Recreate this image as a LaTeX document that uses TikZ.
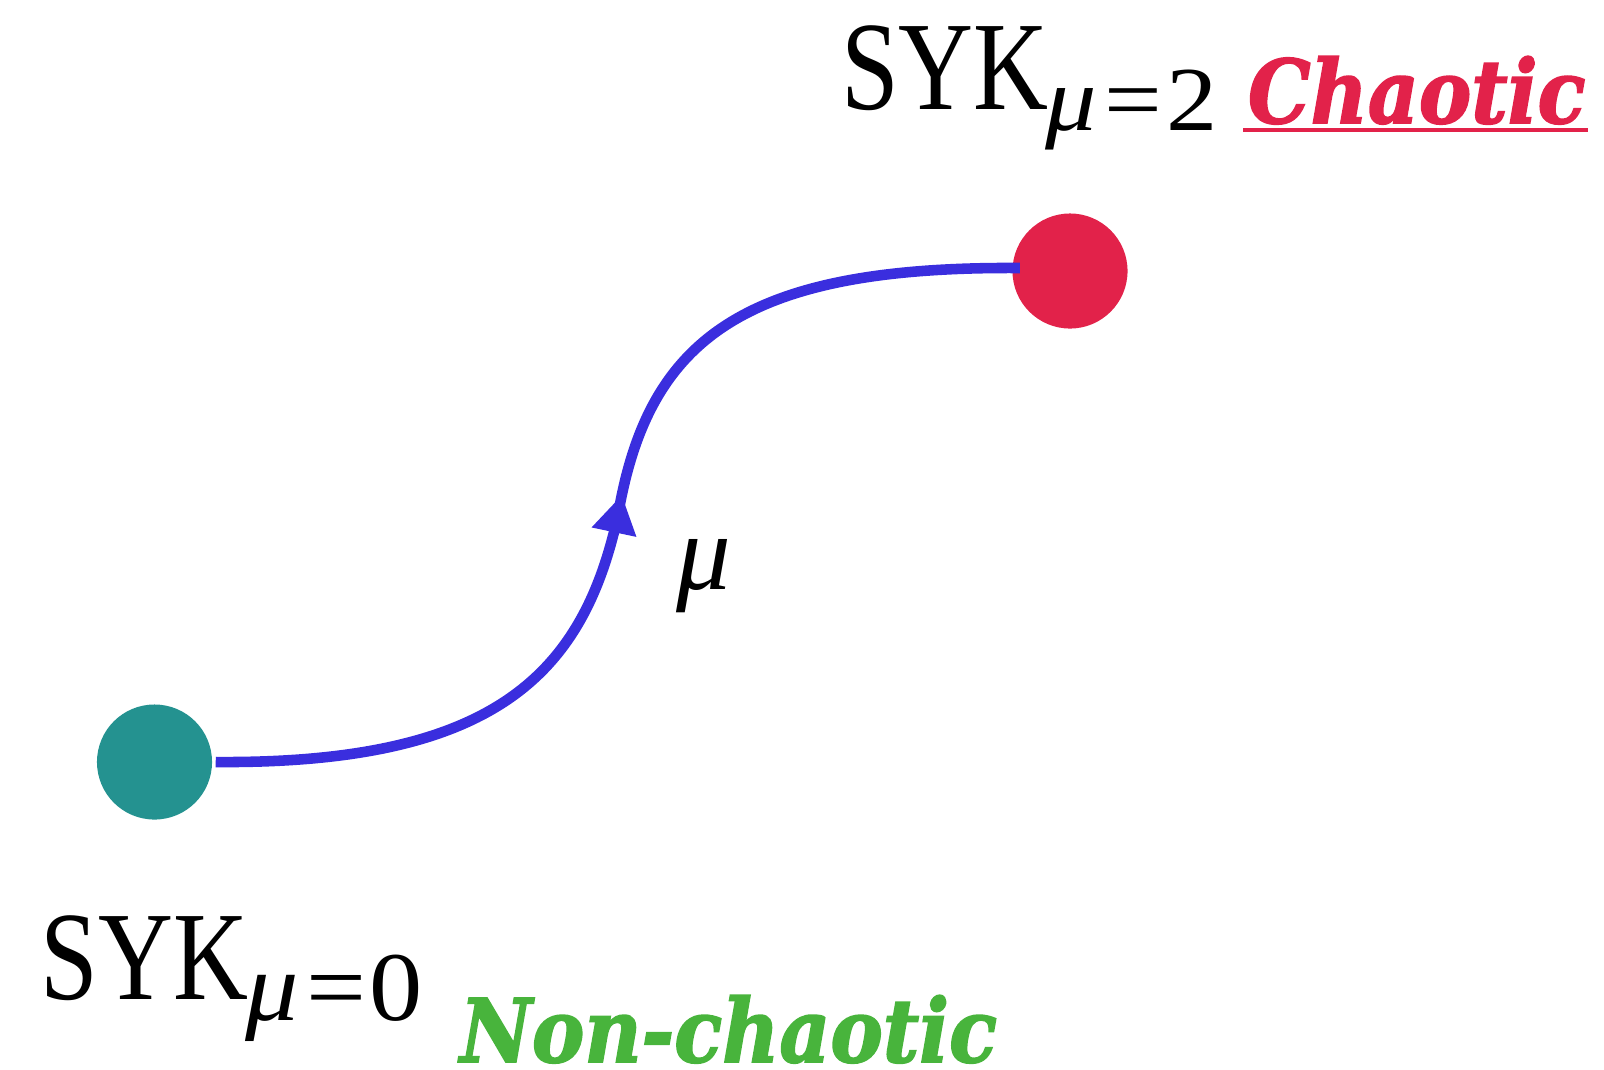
\documentclass[tikz,border=0pt]{standalone}
\usepackage{graphicx}
\usepackage{fontspec}
\setmainfont{Liberation Serif}
\newfontfamily\slabfont[FakeBold=2]{DejaVu Serif Bold Italic}
\usetikzlibrary{arrows.meta,decorations.markings,calc}
\definecolor{pathblue}{RGB}{58,46,222}
\definecolor{chaosred}{RGB}{226,34,74}
\definecolor{tealdot}{RGB}{36,146,144}
\definecolor{ncgreen}{RGB}{72,180,60}
\tikzset{
  dot/.style={circle,minimum size=1.15cm,inner sep=0pt,draw=none},
  lbl/.style={inner sep=0pt,outer sep=0pt,anchor=base west},
  tag/.style={lbl,font=\slabfont\fontsize{25}{25}\selectfont},
  flow/.style={line width=3pt,color=pathblue,postaction={decorate},
    decoration={markings,mark=at position 0.517 with {\arrow{Triangle[length=0.38cm,width=0.43cm]}}}}
}
% #1 subscript digit, #2 subscript size, #3 subscript stretch
\newcommand{\sykbig}[3]{{\fontsize{36}{36}\selectfont\scalebox{0.82}[1]{SYK}}\kern-1pt\raisebox{-0.205cm}{\fontsize{#2}{#2}\selectfont\scalebox{#3}[1]{\textit{μ}\kern2pt=\kern1pt#1}}}
\begin{document}
\begin{tikzpicture}[x=0.01cm,y=-0.01cm]
\useasboundingbox (0,0) rectangle (1604,1069);
\node[dot,fill=tealdot] (teal) at (154.5,762) {};
\node[dot,fill=chaosred] (red) at (1070,271) {};
\coordinate (start) at ($(teal.east)+(3,0)$);
\coordinate (mid) at (618,515);
\coordinate (stop) at ($(red.west)+(8,-3)$);
\draw[flow] (start) .. controls (494,764) and (583,675) .. (mid)
  .. controls (648,340) and (742,266) .. (stop);
\node[lbl,anchor=base] (mu) at (704,589) {\fontsize{31}{31}\selectfont\textit{μ}};
\node[lbl] (sykt) at (841,109.5) {\sykbig{2}{26}{1.12}};
\node[lbl] (sykb) at (41,999.5) {\sykbig{0}{28}{1.08}};
\node[tag,text=chaosred] (chaotic) at (1248,123) {\scalebox{0.895}[1]{Chaotic}};
\draw[chaosred,line width=0.04cm] ([xshift=-0.05cm,yshift=-0.07cm]chaotic.base west) -- ([xshift=0.03cm,yshift=-0.07cm]chaotic.base east);
\node[tag,text=ncgreen] (nonchaotic) at (460,1062) {\scalebox{0.895}[1]{Non-chaotic}};
\end{tikzpicture}
\end{document}
